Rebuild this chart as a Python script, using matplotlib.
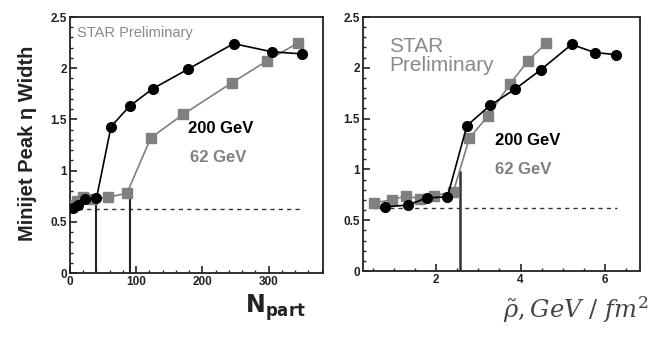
import matplotlib
matplotlib.use("Agg")
import matplotlib.pyplot as plt
from matplotlib.ticker import MultipleLocator

# ---- data ----
npart_200 = [4, 12, 22, 40, 62, 90, 125, 178, 247, 305, 350]
width_200_l = [0.63, 0.66, 0.72, 0.73, 1.43, 1.63, 1.80, 1.99, 2.24, 2.16, 2.14]
npart_62 = [4, 10, 19, 33, 58, 86, 122, 171, 245, 297, 345]
width_62_l = [0.66, 0.70, 0.74, 0.72, 0.74, 0.78, 1.32, 1.55, 1.86, 2.07, 2.25]

rho_200 = [0.79, 1.34, 1.78, 2.27, 2.73, 3.28, 3.87, 4.48, 5.21, 5.76, 6.26]
width_200_r = [0.63, 0.65, 0.72, 0.73, 1.43, 1.63, 1.79, 1.98, 2.23, 2.15, 2.13]
rho_62 = [0.52, 0.95, 1.29, 1.62, 1.95, 2.41, 2.79, 3.24, 3.75, 4.18, 4.60]
width_62_r = [0.67, 0.70, 0.74, 0.71, 0.74, 0.78, 1.31, 1.53, 1.84, 2.07, 2.24]

baseline = 0.625
vlines_left = [(40, 0.74), (90, 0.78)]
vline_right = (2.57, 0.97)

yticks = [0, 0.5, 1, 1.5, 2, 2.5]
yticklabels = ["0", "0.5", "1", "1.5", "2", "2.5"]
xticks_left = [0, 100, 200, 300]
xticks_right = [2, 4, 6]

BLACK = "#000000"
GRAY = "#808080"

plt.rcParams['font.family'] = ['Liberation Sans', 'DejaVu Sans']

fig = plt.figure(figsize=(6.7, 3.45), dpi=100)
axL = fig.add_axes([70/670, 72/345, 253/670, 256/345])
axR = fig.add_axes([363/670, 74/345, 277/670, 254/345])


def style(ax):
    ax.set_ylim(0, 2.5)
    ax.yaxis.set_minor_locator(MultipleLocator(0.1))
    ax.tick_params(which='both', direction='in', top=False, right=False,
                   labelsize=8.5, colors='#222222', pad=2)
    ax.tick_params(which='major', length=5, width=1.2)
    ax.tick_params(which='minor', length=2.5, width=1.0)
    for s in ax.spines.values():
        s.set_linewidth(1.3)
        s.set_color('#222222')
    ax.set_yticks(yticks)
    ax.set_yticklabels(yticklabels, fontweight='bold')


# Left panel
axL.set_xlim(0, 382)
style(axL)
axL.set_xticks(xticks_left)
axL.set_xticklabels([str(v) for v in xticks_left], fontweight='bold')
axL.xaxis.set_minor_locator(MultipleLocator(20))
axL.plot([0, 350], [baseline, baseline], ls=(0, (3, 3)), color='#333333', lw=1.0, zorder=1)
for xv, yv in vlines_left:
    axL.plot([xv, xv], [0, yv], color='#222222', lw=1.5, zorder=2)
axL.plot(npart_62, width_62_l, color=GRAY, lw=1.2, marker='s', ms=7,
         mfc=GRAY, mec=GRAY, zorder=3)
axL.plot(npart_200, width_200_l, color=BLACK, lw=1.2, marker='o', ms=7,
         mfc=BLACK, mec=BLACK, zorder=4)
axL.text(10, 2.34, "STAR Preliminary", color='#8a8a8a', fontsize=10.5, va='center')
axL.text(178, 1.41, "200 GeV", color=BLACK, fontsize=12, fontweight='bold', va='center')
axL.text(181, 1.13, "62 GeV", color=GRAY, fontsize=12, fontweight='bold', va='center')
fig.text(28/670, 1 - 143/345, "Minijet Peak η Width", rotation=90, fontsize=14.5,
         fontweight='bold', ha='center', va='center', color='#222222')
axL.text(0.93, -0.075, r"$\mathbf{N_{part}}$", transform=axL.transAxes,
         fontsize=17, ha='right', va='top', color='#222222')

# Right panel
axR.set_xlim(0.27, 6.83)
style(axR)
axR.set_xticks(xticks_right)
axR.set_xticklabels([str(v) for v in xticks_right], fontweight='bold')
axR.xaxis.set_minor_locator(MultipleLocator(0.5))
axR.plot([0.5, 6.28], [baseline, baseline], ls=(0, (3, 3)), color='#333333', lw=1.0, zorder=1)
axR.plot([vline_right[0]] * 2, [0, vline_right[1]], color='#333333', lw=1.8, zorder=2)
axR.plot(rho_62, width_62_r, color=GRAY, lw=1.2, marker='s', ms=7,
         mfc=GRAY, mec=GRAY, zorder=3)
axR.plot(rho_200, width_200_r, color=BLACK, lw=1.2, marker='o', ms=7,
         mfc=BLACK, mec=BLACK, zorder=4)
axR.text(0.88, 2.12, "STAR\nPreliminary", color='#8a8a8a', fontsize=15,
         va='center', linespacing=1.0)
axR.text(3.4, 1.28, "200 GeV", color=BLACK, fontsize=12, fontweight='bold', va='center')
axR.text(3.4, 1.0, "62 GeV", color=GRAY, fontsize=12, fontweight='bold', va='center')
axR.text(1.03, -0.09, r"$\tilde{\rho}, GeV\ /\ fm^{2}$", transform=axR.transAxes,
         fontsize=17.5, ha='right', va='top', color='#444444',
         math_fontfamily='dejavuserif')

fig.savefig("out.png", dpi=100)
